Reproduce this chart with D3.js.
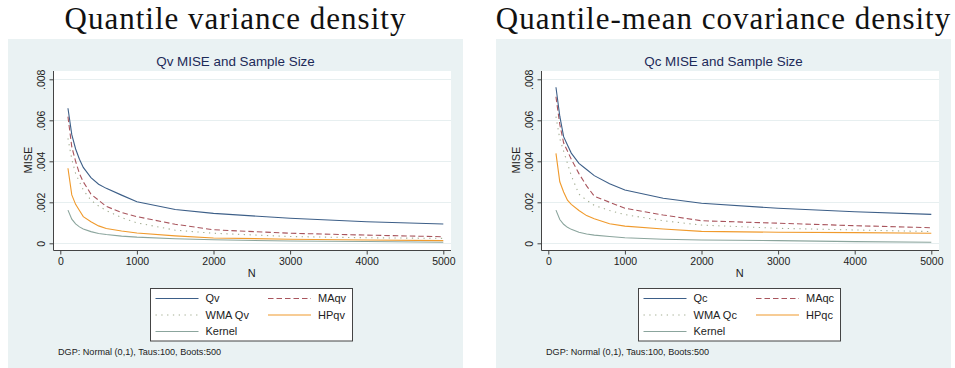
<!DOCTYPE html>
<html>
<head>
<meta charset="utf-8">
<script src="https://cdn.jsdelivr.net/npm/d3@7"></script>
<style>
  html, body { margin: 0; padding: 0; background: #fff; }
  svg { display: block; }
</style>
</head>
<body>
<div id="chart"></div>
<script>
// sample sizes shared by every curve
const sampleSizes = [100, 150, 200, 250, 300, 400, 500, 600, 800, 1000, 1500, 2000, 3000, 4000, 5000];

// quantile variance density
const qvMise     = [.00659, .0053, .0046, .0041, .0037, .0032, .00288, .00268, .00235, .00203, .00165, .00146, .00122, .00105, .00094];
const maQvMise   = [.00618, .0047, .0040, .0034, .0030, .0024, .0021, .0018, .0015, .0013, .00093, .00066, .00049, .0004, .00032];
const wmaQvMise  = [.00512, .0041, .0034, .0030, .0026, .0021, .00182, .0016, .00125, .001, .00064, .00049, .00033, .00027, .00024];
const hpQvMise   = [.00366, .00236, .0019, .0016, .0013, .00105, .00085, .00072, .0006, .0005, .00036, .00026, .0002, .00016, .00013];
const kernelQv   = [.00162, .00118, .00095, .0008, .0007, .00057, .00048, .00043, .00035, .0003, .00022, .00017, .00011, .00009, .00005];

// quantile-mean covariance density
const qcMise     = [.00761, .0062, .0052, .0048, .0044, .0039, .0036, .0033, .0029, .0026, .0022, .00195, .00171, .00154, .00141];
const maQcMise   = [.00715, .0058, .0049, .0045, .0041, .0034, .0028, .0023, .0020, .00171, .00138, .0011, .00098, .00086, .00076];
const wmaQcMise  = [.00618, .0051, .0045, .0039, .0033, .0024, .0021, .00185, .0016, .0014, .0011, .00089, .00073, .00065, .00057];
const hpQcMise   = [.00439, .0030, .0025, .0021, .0019, .0016, .00135, .0012, .00095, .00084, .0007, .00058, .00054, .00052, .00049];
const kernelQc   = [.00162, .00116, .00093, .00078, .00068, .00054, .00045, .0004, .00033, .00027, .0002, .00016, .00013, .00008, .00005];

const xTicks = [0, 1000, 2000, 3000, 4000, 5000];
const yTicks = [0, .002, .004, .006, .008];
const headers = ["Quantile variance density", "Quantile-mean covariance density"];
const titles = ["Qv MISE and Sample Size", "Qc MISE and Sample Size"];
const seriesNames = [
  ["Qv", "MAqv", "WMA Qv", "HPqv", "Kernel"],
  ["Qc", "MAqc", "WMA Qc", "HPqc", "Kernel"]
];
const seriesValues = [
  [qvMise, maQvMise, wmaQvMise, hpQvMise, kernelQv],
  [qcMise, maQcMise, wmaQcMise, hpQcMise, kernelQc]
];
const noteText = "DGP: Normal (0,1), Taus:100, Boots:500";

const W = 955, H = 368;
const sans = "'Liberation Sans', Arial, Helvetica, sans-serif";
const styles = [
  { color: "#3d5f88", dash: null },
  { color: "#a9555d", dash: "5.5,3" },
  { color: "#a3ad92", dash: "1.3,4.5" },
  { color: "#f09a2c", dash: null },
  { color: "#8ba59d", dash: null }
];

const svg = d3.select("#chart").append("svg")
  .attr("width", W).attr("height", H);
svg.append("rect").attr("width", W).attr("height", H).attr("fill", "#fff");

const panelOffsets = [0, 488];

panelOffsets.forEach((ox, p) => {
  const g = svg.append("g").attr("transform", `translate(${ox},0)`);

  // big header above panel
  g.append("text")
    .attr("x", 235.5).attr("y", 28.5)
    .attr("text-anchor", "middle")
    .attr("font-family", "'Liberation Serif', 'Times New Roman', serif")
    .attr("font-size", 31)
    .attr("letter-spacing", 1)
    .attr("fill", "#111")
    .text(headers[p]);

  // graph region
  g.append("rect")
    .attr("x", 8).attr("y", 39).attr("width", 455).attr("height", 329)
    .attr("fill", "#eaf2f3");

  // plot region
  g.append("rect")
    .attr("x", 53.5).attr("y", 71).attr("width", 397.5).attr("height", 179)
    .attr("fill", "#fff");

  const x = d3.scaleLinear().domain([0, 5000]).range([60.3, 443.3]);
  const y = d3.scaleLinear().domain([0, .008]).range([243.3, 79.3]);

  // gridlines
  g.append("g").selectAll("line").data(yTicks).join("line")
    .attr("x1", 53.5).attr("x2", 451)
    .attr("y1", d => Math.round(y(d)) + 0.5).attr("y2", d => Math.round(y(d)) + 0.5)
    .attr("stroke", "#e7eff0").attr("stroke-width", 1);

  g.append("text")
    .attr("x", 235.5).attr("y", 66)
    .attr("text-anchor", "middle")
    .attr("font-family", sans).attr("font-size", 13.4)
    .attr("fill", "#1c2a58")
    .text(titles[p]);

  // axes
  const xAxis = g.append("g")
    .attr("transform", "translate(0,250.5)")
    .call(d3.axisBottom(x).tickValues(xTicks).tickSize(4).tickPadding(3).tickFormat(d3.format("d")));
  xAxis.select(".domain").attr("d", "M53.5,0H451").attr("stroke", "#444");
  xAxis.selectAll(".tick line").attr("stroke", "#444");
  xAxis.selectAll(".tick text")
    .attr("font-family", sans).attr("font-size", 10.5).attr("fill", "#222");

  const yAxis = g.append("g")
    .attr("transform", "translate(53.5,0)")
    .call(d3.axisLeft(y).tickValues(yTicks).tickSize(4)
      .tickFormat(d => d === 0 ? "0" : d3.format(".3f")(d).replace(/^0/, "")));
  yAxis.select(".domain").attr("d", "M0,71V250.5").attr("stroke", "#444");
  yAxis.selectAll(".tick line").attr("stroke", "#444");
  yAxis.selectAll(".tick text")
    .attr("x", null).attr("dy", null)
    .attr("text-anchor", "middle")
    .attr("transform", "translate(-9,0) rotate(-90)")
    .attr("font-family", sans).attr("font-size", 10.5).attr("fill", "#222");

  g.append("text")
    .attr("transform", "translate(32,160) rotate(-90)")
    .attr("text-anchor", "middle")
    .attr("font-family", sans).attr("font-size", 11).attr("fill", "#222")
    .text("MISE");

  g.append("text")
    .attr("x", (x(0) + x(5000)) / 2).attr("y", 277)
    .attr("text-anchor", "middle")
    .attr("font-family", sans).attr("font-size", 11).attr("fill", "#222")
    .text("N");

  // series lines, drawn back to front
  const line = d3.line().x(d => x(d[0])).y(d => y(d[1]));
  const order = [4, 3, 2, 1, 0];
  order.forEach(i => {
    const pts = sampleSizes.map((n, k) => [n, seriesValues[p][i][k]]);
    g.append("path")
      .datum(pts)
      .attr("d", line)
      .attr("fill", "none")
      .attr("stroke", styles[i].color)
      .attr("stroke-width", 1.1)
      .attr("stroke-dasharray", styles[i].dash);
  });

  // legend
  const lg = g.append("g");
  lg.append("rect")
    .attr("x", 150.5).attr("y", 288.5).attr("width", 202).attr("height", 52.5)
    .attr("fill", "#fff").attr("stroke", "#444").attr("stroke-width", 1);
  const slots = [
    { lx: 155.5, rowY: 298 },
    { lx: 268, rowY: 298 },
    { lx: 155.5, rowY: 314.5 },
    { lx: 268, rowY: 314.5 },
    { lx: 155.5, rowY: 331 }
  ];
  seriesNames[p].forEach((name, i) => {
    const s = slots[i];
    lg.append("line")
      .attr("x1", s.lx).attr("x2", s.lx + 43)
      .attr("y1", s.rowY + 0.5).attr("y2", s.rowY + 0.5)
      .attr("stroke", styles[i].color).attr("stroke-width", 1.1)
      .attr("stroke-dasharray", styles[i].dash);
    lg.append("text")
      .attr("x", s.lx + 50).attr("y", s.rowY + 4)
      .attr("font-family", sans).attr("font-size", 11).attr("fill", "#222")
      .text(name);
  });

  g.append("text")
    .attr("x", 58).attr("y", 355)
    .attr("font-family", sans).attr("font-size", 9.1).attr("fill", "#222")
    .text(noteText);
});
</script>
</body>
</html>
